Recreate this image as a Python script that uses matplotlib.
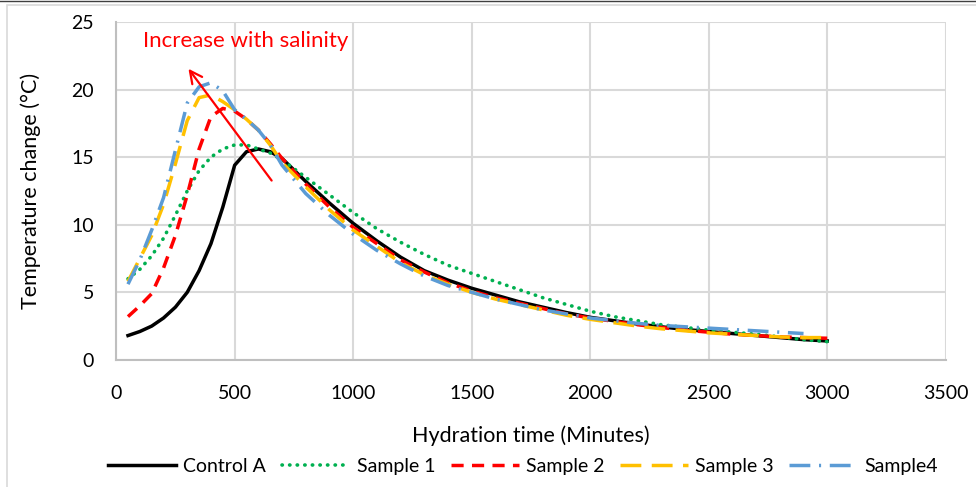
import matplotlib
matplotlib.use('Agg')
import matplotlib.pyplot as plt
from matplotlib.patches import Rectangle

# hydration time (minutes)
t_rise = [50, 100, 150, 200, 250, 300, 350, 400, 450, 500, 550, 600, 650]
t_decay = [700, 800, 900, 1000, 1100, 1200, 1300, 1400, 1500, 1600, 1700, 1800, 1900,
           2000, 2100, 2200, 2300, 2400, 2500, 2600, 2700, 2800, 2900, 3000]
time = t_rise + t_decay

control_a = [1.8, 2.1, 2.5, 3.1, 3.9, 5.0, 6.6, 8.6, 11.3, 14.4, 15.4, 15.6, 15.4,
             14.9, 13.2, 11.6, 10.1, 8.8, 7.6, 6.6, 5.9, 5.3, 4.8, 4.3, 3.9, 3.5,
             3.15, 2.9, 2.65, 2.45, 2.25, 2.1, 1.95, 1.8, 1.65, 1.5, 1.4]
sample_1 = [6.0, 6.7, 7.7, 9.0, 10.7, 12.5, 14.0, 15.0, 15.6, 15.9, 15.9, 15.6, 15.3,
            14.8, 13.5, 12.2, 10.9, 9.7, 8.7, 7.8, 7.0, 6.4, 5.8, 5.2, 4.6, 4.1,
            3.6, 3.2, 2.9, 2.6, 2.4, 2.2, 2.05, 1.9, 1.7, 1.5, 1.35]
sample_2 = [3.2, 4.0, 4.9, 6.8, 9.2, 12.2, 15.6, 18.0, 18.6, 18.4, 17.8, 17.0, 16.0,
            14.9, 13.0, 11.3, 9.8, 8.6, 7.4, 6.5, 5.7, 5.1, 4.6, 4.2, 3.8, 3.4,
            3.1, 2.85, 2.6, 2.4, 2.2, 2.05, 1.9, 1.8, 1.7, 1.65, 1.6]
sample_3 = [5.8, 7.5, 9.2, 11.5, 14.5, 17.7, 19.4, 19.6, 19.1, 18.5, 17.8, 17.0, 15.9,
            14.6, 12.8, 11.1, 9.6, 8.4, 7.2, 6.3, 5.6, 5.0, 4.5, 4.1, 3.7, 3.3,
            3.0, 2.75, 2.5, 2.3, 2.15, 2.0, 1.9, 1.8, 1.7, 1.65, 1.65]
sample_4 = [5.6, 7.4, 9.6, 12.0, 15.5, 19.0, 20.2, 20.5, 19.9, 18.5, 17.8, 17.0, 15.9,
            14.4, 12.3, 10.7, 9.3, 8.1, 7.1, 6.2, 5.5, 5.0, 4.5, 4.1, 3.7, 3.4,
            3.1, 2.9, 2.7, 2.55, 2.45, 2.35, 2.25, 2.15, 2.05, 1.95, None]

plt.rcParams['font.family'] = ['Lato', 'DejaVu Sans']

fig = plt.figure(figsize=(9.76, 4.87), dpi=100)
# chart frame like the spreadsheet export
fig.patches.append(Rectangle((7 / 976, -0.1), 1.1, 1.1 - 5 / 487,
                             transform=fig.transFigure, fill=False,
                             edgecolor='#d9d9d9', lw=1.2))
fig.lines.append(plt.Line2D([0, 1], [0.998, 0.998], transform=fig.transFigure,
                            color='#404040', lw=1.0))

ax = fig.add_axes([0.119, 0.261, 0.850, 0.694])

lw = 2.5
ax.plot(time, control_a, color='black', lw=lw, label='Control A')
ax.plot(time, sample_1, color='#00b050', lw=2.6, linestyle=(0, (0.1, 2.0)),
        dash_capstyle='round', label='Sample 1')
ax.plot(time, sample_2, color='#ff0000', lw=lw, linestyle=(0, (3.5, 2.4)), label='Sample 2')
ax.plot(time, sample_3, color='#ffc000', lw=lw, linestyle=(0, (6, 3)), label='Sample 3')
t4 = [t for t, v in zip(time, sample_4) if v is not None]
v4 = [v for v in sample_4 if v is not None]
ax.plot(t4, v4, color='#5b9bd5', lw=lw, linestyle=(0, (6, 2.5, 0.6, 2.5)),
        label='Sample4')

ax.annotate('', xy=(298, 21.7), xytext=(663, 13.1),
            arrowprops=dict(arrowstyle='->', color='red', lw=1.6, mutation_scale=22))
ax.text(114, 23.6, 'Increase with salinity', color='red', fontsize=16,
        ha='left', va='center')

ax.set_xlim(0, 3500)
ax.set_ylim(0, 25)
ax.set_xticks(range(0, 3501, 500))
ax.set_yticks(range(0, 26, 5))
ax.grid(True, color='#d9d9d9', lw=1.5)
ax.set_axisbelow(True)
for s in ['top', 'right']:
    ax.spines[s].set_visible(False)
for s in ['left', 'bottom']:
    ax.spines[s].set_color('#bfbfbf')
    ax.spines[s].set_linewidth(1.5)
ax.tick_params(length=0, labelsize=14)
ax.tick_params(axis='x', pad=18)
ax.tick_params(axis='y', pad=16)
ax.set_xlabel('Hydration time (Minutes)', fontsize=15.5, labelpad=17)
ax.set_ylabel('Temperature change (°C)', fontsize=15.5, labelpad=22)

fig.legend(loc='center', bbox_to_anchor=(0.536, 0.043), ncol=5, frameon=False,
           fontsize=14, handlelength=3.5, columnspacing=0.8, handletextpad=0.36)

fig.savefig('out.png', dpi=100)
